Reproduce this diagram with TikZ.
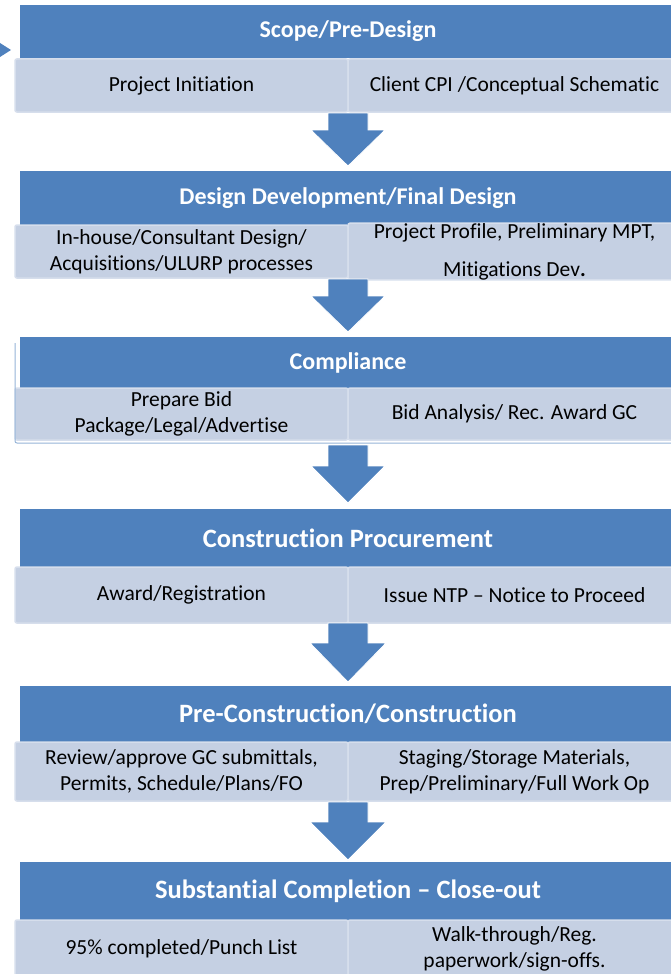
\documentclass[tikz,border=0pt]{standalone}
\usepackage{fontspec}
\setmainfont{Carlito}[Ligatures=NoCommon]
\usetikzlibrary{positioning}

\definecolor{blu}{HTML}{4F81BD}
\definecolor{subfill}{HTML}{C5D0E3}
\definecolor{subedge}{HTML}{D6DEEC}

\begin{document}
\begin{tikzpicture}[x=1pt, y=-1pt,
  head/.style={rectangle, fill=blu, text=white, minimum width=656pt, inner sep=0pt, outer sep=0pt, font=\bfseries\fontsize{24}{28}\selectfont},
  sub/.style={rounded corners=2pt, rectangle, fill=subfill, draw=subedge, line width=1.5pt, minimum width=333pt, inner sep=0pt, outer sep=0pt, align=center, font=\fontsize{21.5}{26}\selectfont},
  down/.style={fill=blu, draw=white, line width=0.8pt}]

        \useasboundingbox (0,0) rectangle (671,974);

        \fill[blu] (0,43) -- (11,50) -- (0,57) -- cycle;

        \node[head, minimum height=53pt, anchor=north] (scope) at (348,5) {Scope/Pre-Design};
        \node[sub, minimum height=53pt, below left=1pt and 0pt of scope.south] (scopeL) {Project Initiation};
        \node[sub, minimum height=53pt, right=0pt of scopeL] (scopeR) {Client CPI /Conceptual Schematic};
        \path[down] ([shift={(-20,1)}]scopeL.south east) -- ++(40,0) -- ++(0,17) -- ++(17,0) -- ++(-37,36) coordinate (tip1) -- ++(-37,-36) -- ++(17,0) -- cycle;

        \node[head, minimum height=54pt, below=5pt of tip1] (design) {Design Development/Final Design};
        \node[sub, minimum height=53pt, below left=0pt and 0pt of design.south] (designL) {In-house/Consultant Design/\\Acquisitions/ULURP processes};
        \node[sub, minimum height=53pt, right=0pt of designL] (designR) {Project Profile, Preliminary MPT,\\[12pt]Mitigations Dev\textbf{.}};
        \path[down] ([shift={(-20,1)}]designL.south east) -- ++(40,0) -- ++(0,17) -- ++(17,0) -- ++(-37,36) coordinate (tip2) -- ++(-37,-36) -- ++(17,0) -- cycle;

        \node[head, minimum height=51pt, below=5pt of tip2] (comp) {Compliance};
        \node[sub, minimum height=52pt, below left=0pt and 0pt of comp.south] (compL) {Prepare Bid\\Package/Legal/Advertise};
        \node[sub, minimum height=52pt, right=0pt of compL] (compR) {Bid Analysis/ Rec. Award GC};
        \path[draw, line width=1pt, color=blu!60, rounded corners=2pt] ([yshift=-6pt]comp.north -| compL.west) |- ([yshift=-3pt]compR.south east);
        \path[down] ([shift={(-20,5)}]compL.south east) -- ++(40,0) -- ++(0,21) -- ++(17,0) -- ++(-37,37) coordinate (tip3) -- ++(-37,-37) -- ++(17,0) -- cycle;

        \node[head, minimum height=58pt, below=6pt of tip3, font=\bfseries\fontsize{26.5}{30}\selectfont] (proc) {Construction Procurement};
        \node[sub, minimum height=56pt, below left=0pt and 0pt of proc.south] (procL) {Award/Registration};
        \node[sub, minimum height=56pt, right=0pt of procL] (procR) {Issue NTP -- Notice to Proceed};
        \path[down] ([shift={(-20,0)}]procL.south east) -- ++(40,0) -- ++(0,20) -- ++(18,0) -- ++(-38,39) coordinate (tip4) -- ++(-38,-39) -- ++(18,0) -- cycle;

        \node[head, minimum height=56pt, below=4pt of tip4, font=\bfseries\fontsize{26.5}{30}\selectfont] (cons) {Pre-Construction/Construction};
        \node[sub, minimum height=59pt, below left=0pt and 0pt of cons.south] (consL) {Review/approve GC submittals,\\Permits, Schedule/Plans/FO};
        \node[sub, minimum height=59pt, right=0pt of consL] (consR) {Staging/Storage Materials,\\Prep/Preliminary/Full Work Op};
        \path[down] ([shift={(-20,1)}]consL.south east) -- ++(40,0) -- ++(0,20) -- ++(18,0) -- ++(-38,38) coordinate (tip5) -- ++(-38,-38) -- ++(18,0) -- cycle;

        \node[head, minimum height=58pt, below=2pt of tip5, font=\bfseries\fontsize{26.5}{30}\selectfont] (close) {Substantial Completion -- Close-out};
        \node[sub, minimum height=58pt, below left=0pt and 0pt of close.south] (closeL) {95\% completed/Punch List};
        \node[sub, minimum height=58pt, right=0pt of closeL] (closeR) {Walk-through/Reg.\\paperwork/sign-offs.};
\end{tikzpicture}
\end{document}
